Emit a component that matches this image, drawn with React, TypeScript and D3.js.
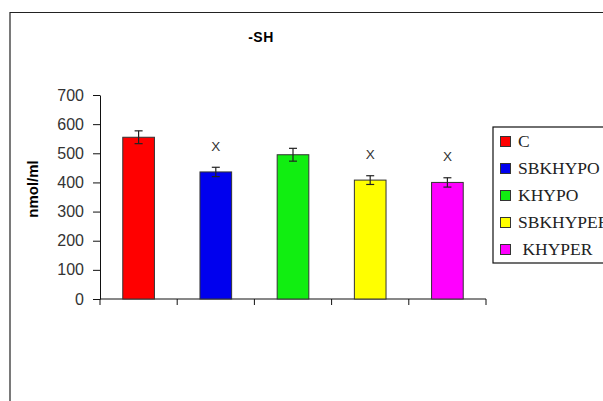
import { useRef, useEffect } from "react";
import * as d3 from "d3";

const groups = ["C", "SBKHYPO", "KHYPO", "SBKHYPER", " KHYPER"];
const means = [555, 436, 495, 408, 400];
const errors = [22, 16, 22, 15, 16];
const marks = ["", "X", "", "X", "X"];
const colors = ["#ff0000", "#0000ee", "#11ee11", "#ffff00", "#ff00ff"];
const yTicks = [0, 100, 200, 300, 400, 500, 600, 700];

export default function App() {
  const ref = useRef<SVGSVGElement>(null);

  function init() {
    const settings = {
      width: 603,
      height: 401,
      margin: { top: 95, right: 117, bottom: 102, left: 100 },
    };
    const svg = d3.select(ref.current);
    svg.selectAll("*").remove();

    const x = d3
      .scaleBand()
      .domain(groups)
      .range([settings.margin.left, settings.width - settings.margin.right])
      .paddingInner(0.59)
      .paddingOuter(0.295);

    const y = d3
      .scaleLinear()
      .domain([0, 700])
      .range([settings.height - settings.margin.bottom, settings.margin.top]);

    // outer frame (runs off the right and bottom of the picture)
    svg
      .append("path")
      .attr("d", "M10,402V12.5H604")
      .attr("fill", "none")
      .attr("stroke", "#222")
      .attr("stroke-width", 1.2);

    svg
      .append("text")
      .attr("x", 261)
      .attr("y", 42)
      .attr("text-anchor", "middle")
      .attr("font-family", "Liberation Sans, Arial, sans-serif")
      .attr("font-weight", "bold")
      .attr("font-size", 14)
      .attr("letter-spacing", 0.5)
      .text("-SH");

    // y axis
    svg
      .append("g")
      .attr("transform", `translate(${settings.margin.left},0)`)
      .call(d3.axisLeft(y).tickValues(yTicks).tickSize(7).tickPadding(9).tickSizeOuter(0))
      .call((g) => g.select(".domain").attr("stroke", "#111"))
      .call((g) => g.selectAll(".tick line").attr("stroke", "#111"))
      .call((g) =>
        g
          .selectAll(".tick text")
          .attr("font-family", "Liberation Sans, Arial, sans-serif")
          .attr("font-size", 16)
          .attr("fill", "#333")
      );

    // x axis with ticks at category boundaries
    const x0 = settings.margin.left;
    const x1 = settings.width - settings.margin.right;
    const yBase = y(0);
    const xa = svg.append("g");
    xa.append("line")
      .attr("x1", x0)
      .attr("x2", x1)
      .attr("y1", yBase)
      .attr("y2", yBase)
      .attr("stroke", "#111");
    const bounds = groups.map((g) => (x(g) as number) - (x.step() - x.bandwidth()) / 2);
    bounds.push(x1);
    xa.selectAll("line.tk")
      .data(bounds)
      .join("line")
      .attr("class", "tk")
      .attr("x1", (d) => d)
      .attr("x2", (d) => d)
      .attr("y1", yBase)
      .attr("y2", yBase + 6)
      .attr("stroke", "#111");

    svg
      .append("text")
      .attr("transform", `translate(38,${y(350) - 8}) rotate(-90)`)
      .attr("text-anchor", "middle")
      .attr("font-family", "Liberation Sans, Arial, sans-serif")
      .attr("font-weight", "bold")
      .attr("font-size", 15)
      .text("nmol/ml");

    // bars
    svg
      .append("g")
      .selectAll("rect")
      .data(groups)
      .join("rect")
      .attr("x", (d) => x(d) as number)
      .attr("y", (d, i) => y(means[i]))
      .attr("width", x.bandwidth())
      .attr("height", (d, i) => yBase - y(means[i]))
      .attr("fill", (d, i) => colors[i])
      .attr("stroke", "#333")
      .attr("stroke-width", 1);

    // error bars
    const eb = svg.append("g").attr("stroke", "#222").attr("stroke-width", 1.2);
    groups.forEach((g, i) => {
      const cx = (x(g) as number) + x.bandwidth() / 2;
      const top = y(means[i] + errors[i]);
      const bot = y(means[i] - errors[i]);
      eb.append("line").attr("x1", cx).attr("x2", cx).attr("y1", top).attr("y2", bot);
      eb.append("line").attr("x1", cx - 4).attr("x2", cx + 4).attr("y1", top).attr("y2", top);
      eb.append("line").attr("x1", cx - 4).attr("x2", cx + 4).attr("y1", bot).attr("y2", bot);
    });

    // significance marks
    svg
      .append("g")
      .selectAll("text")
      .data(groups)
      .join("text")
      .attr("x", (d) => (x(d) as number) + x.bandwidth() / 2)
      .attr("y", (d, i) => y(means[i] + errors[i]) - 16.5)
      .attr("text-anchor", "middle")
      .attr("font-family", "Liberation Sans, Arial, sans-serif")
      .attr("font-size", 13.5)
      .attr("fill", "#333")
      .text((d, i) => marks[i]);

    // legend
    const lg = svg.append("g").attr("transform", "translate(493,127)");
    lg.append("rect")
      .attr("x", 0)
      .attr("y", 0)
      .attr("width", 130)
      .attr("height", 136)
      .attr("fill", "#fff")
      .attr("stroke", "#111")
      .attr("stroke-width", 1.2);
    const item = lg
      .selectAll("g.item")
      .data(groups)
      .join("g")
      .attr("class", "item")
      .attr("transform", (d, i) => `translate(0,${14 + i * 27})`);
    item
      .append("rect")
      .attr("x", 7.5)
      .attr("y", -4.5)
      .attr("width", 10)
      .attr("height", 10)
      .attr("fill", (d, i) => colors[i])
      .attr("stroke", "#333");
    item
      .append("text")
      .attr("x", 25)
      .attr("y", 6)
      .attr("font-family", "Liberation Serif, Times New Roman, serif")
      .attr("font-size", 17.5)
      .attr("fill", "#222")
      .style("white-space", "pre")
      .text((d) => d);
  }

  useEffect(init, []);
  return (
    <svg
      ref={ref}
      width={603}
      height={401}
      style={{ position: "absolute", left: 0, top: 0, background: "#fff" }}
    ></svg>
  );
}
